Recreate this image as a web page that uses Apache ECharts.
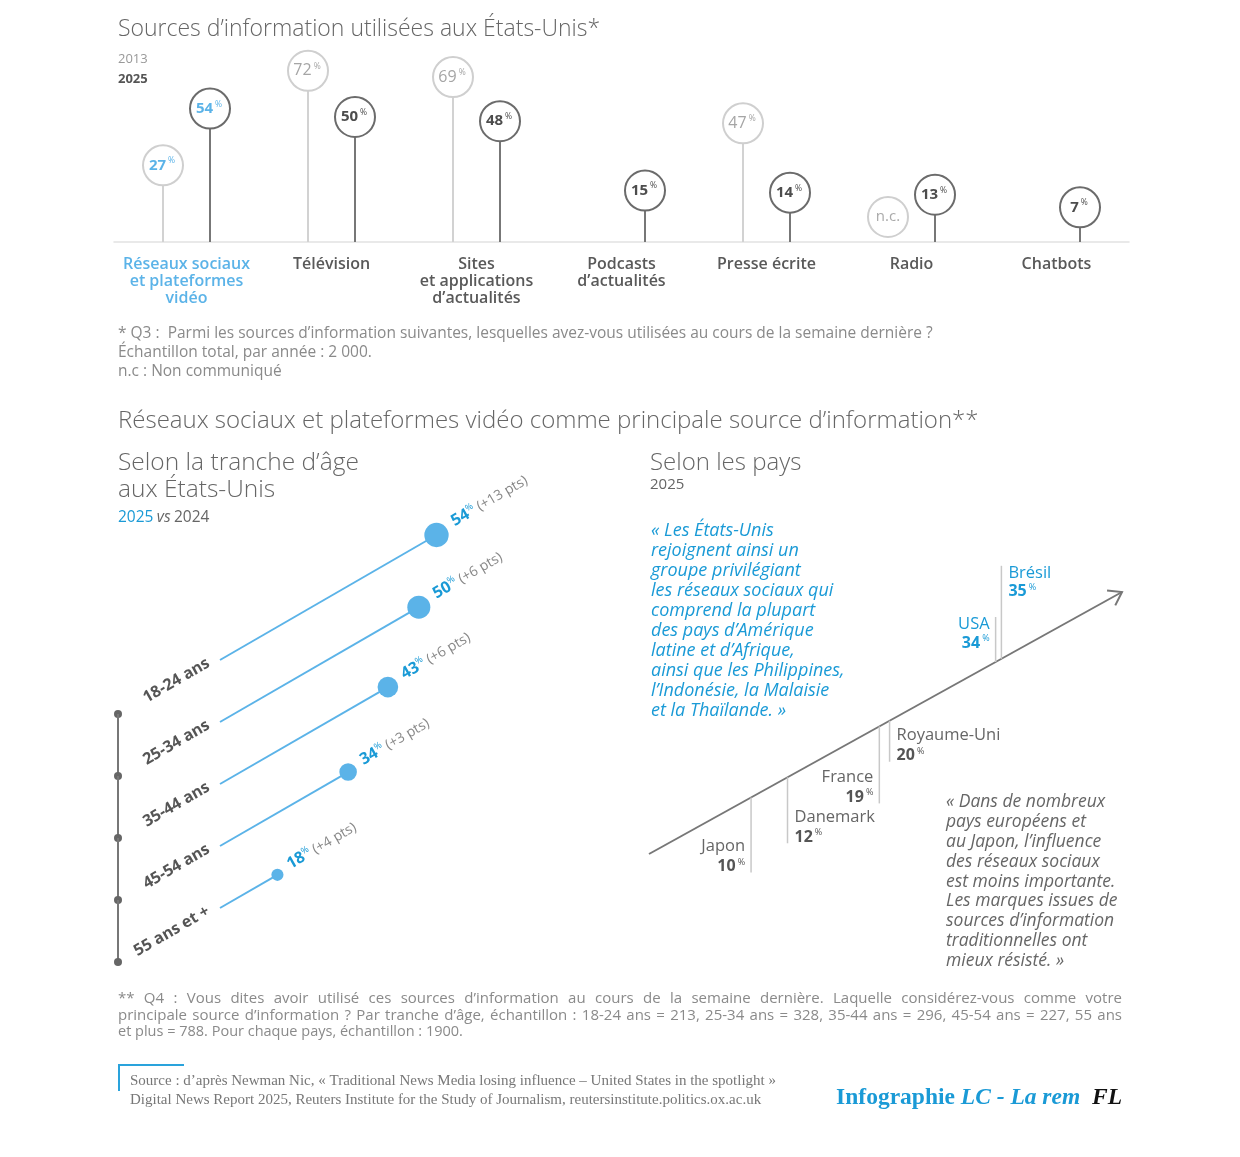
<!DOCTYPE html>
<html><head><meta charset="utf-8">
<script src="https://cdn.jsdelivr.net/npm/echarts@6/dist/echarts.min.js"></script>
<style>html,body{margin:0;padding:0;background:#fff}#c{width:1240px;height:1157px}</style>
</head><body><div id="c"></div>
<script>
// ---------- DATA ----------
const sourceCategories = ['Réseaux sociaux\net plateformes\nvidéo', 'Télévision', 'Sites\net applications\nd’actualités', 'Podcasts\nd’actualités', 'Presse écrite', 'Radio', 'Chatbots'];
const usage2013 = [27, 72, 69, null, 47, 'n.c.', null];
const usage2025 = [54, 50, 48, 15, 14, 13, 7];

const ageGroups = ['18-24 ans', '25-34 ans', '35-44 ans', '45-54 ans', '55 ans et +'];
const ageShare2025 = [54, 50, 43, 34, 18];
const ageChangeVs2024 = [13, 6, 6, 3, 4];

const countries = ['Japon', 'Danemark', 'France', 'Royaume-Uni', 'USA', 'Brésil'];
const countryShare = [10, 12, 19, 20, 34, 35];

// ---------- STYLE ----------
const FONT = '"Open Sans", Lato, sans-serif';
const SERIF = '"Liberation Serif", "DejaVu Serif", serif';
const BLUE = '#1a9ad6';
const LIGHTBLUE = '#5bb3e8';
const GRAY = '#666';
const countryStyle = {
  'Japon': { side: 'left', tick: 75 },
  'Danemark': { side: 'right', tick: 66 },
  'France': { side: 'left', tick: 77 },
  'Royaume-Uni': { side: 'right', tick: 41 },
  'USA': { side: 'left', tick: -45, blue: true },
  'Brésil': { side: 'right', tick: -93, blue: true }
};

const chart = echarts.init(document.getElementById('c'));

function lollipop(values, offset, is2025) {
  const data = [];
  values.forEach((v, i) => {
    if (v === null) return;
    data.push(v === 'n.c.' ? [i, 0, 1] : [i, v, 0]);
  });
  return {
    type: 'custom', xAxisIndex: 0, yAxisIndex: 0, data, encode: { x: 0, y: 1 }, z: is2025 ? 4 : 3,
    renderItem: (params, api) => {
      const i = api.value(0), v = api.value(1), nc = api.value(2);
      const cs = params.coordSys;
      const base = cs.y + cs.height;
      const p = api.coord([i, v]);
      const x = p[0] + offset;
      const R = 20;
      const children = [];
      let cy;
      const stroke = is2025 ? '#6b6b6b' : '#cfcfcf';
      if (nc) {
        cy = base - 25;
      } else {
        cy = p[1];
        children.push({ type: 'line', shape: { x1: x, y1: base, x2: x, y2: cy + R }, style: { stroke: is2025 ? '#777' : '#d2d2d2', lineWidth: 2 } });
      }
      children.push({ type: 'circle', shape: { cx: x, cy, r: R }, style: { fill: '#fff', stroke, lineWidth: 2 } });
      if (nc) {
        children.push({ type: 'text', x, y: cy, style: { text: 'n.c.', fill: '#aaa', fontSize: 15, fontFamily: FONT, align: 'center', verticalAlign: 'middle' } });
      } else {
        const blue = i === 0;
        const col = blue ? LIGHTBLUE : (is2025 ? '#4d4d4d' : '#a5a5a5');
        const weight = (blue || is2025) ? 'bold' : 'normal';
        const fs = (blue || is2025) ? 15 : 16;
        children.push({
          type: 'text', x: x - 1, y: cy,
          style: {
            text: '{n|' + v + '}{p|%}', align: 'center', verticalAlign: 'middle',
            rich: {
              n: { fill: col, color: col, fontSize: fs, fontWeight: weight, fontFamily: FONT, lineHeight: 18 },
              p: { fill: col, color: col, fontSize: 8.5, fontFamily: FONT, lineHeight: 9, verticalAlign: 'top', padding: [0, 0, 0, 2] }
            }
          }
        });
      }
      return { type: 'group', children };
    }
  };
}

const ANG = Math.PI / 6;
const DIR = [Math.cos(ANG), -Math.sin(ANG)];
const PERP = [-Math.sin(ANG), -Math.cos(ANG)];

const ageSeries = {
  type: 'custom', xAxisIndex: 1, yAxisIndex: 1,
  data: ageShare2025.map((v, i) => [v, i, ageChangeVs2024[i]]), encode: { x: 0, y: 1 },
  renderItem: (params, api) => {
    const v = api.value(0), idx = api.value(1), ch = api.value(2);
    const cs = params.coordSys;
    const end = api.coord([v, idx]);
    const sx = cs.x, sy = end[1];
    const dx = end[0] - sx;
    const ex = end[0], ey = sy - dx * Math.tan(ANG);
    const r = 0.17 * v + 3;
    const children = [];
    // left axis
    const dotY = sy + 54;
    const axX = 118;
    if (idx > 0) {
      const prevY = api.coord([v, idx - 1])[1] + 54;
      children.push({ type: 'line', shape: { x1: axX, y1: prevY, x2: axX, y2: dotY }, style: { stroke: '#777', lineWidth: 2 } });
    }
    children.push({ type: 'circle', shape: { cx: axX, cy: dotY, r: 4 }, style: { fill: '#666' } });
    // bar line
    children.push({ type: 'line', shape: { x1: sx, y1: sy, x2: ex, y2: ey }, style: { stroke: LIGHTBLUE, lineWidth: 2 } });
    children.push({ type: 'circle', shape: { cx: ex, cy: ey, r }, style: { fill: LIGHTBLUE } });
    // age label
    const la = [sx - 11 * DIR[0] + 4 * PERP[0], sy - 11 * DIR[1] + 4 * PERP[1]];
    children.push({ type: 'text', x: la[0], y: la[1], rotation: ANG, style: { text: ageGroups[idx], fill: '#555', fontSize: 16, fontWeight: 'bold', fontFamily: FONT, align: 'right', verticalAlign: 'middle' } });
    // value label
    const d = r + 8;
    const va = [ex + d * DIR[0] + 3 * PERP[0], ey + d * DIR[1] + 3 * PERP[1]];
    children.push({
      type: 'text', x: va[0], y: va[1], rotation: ANG,
      style: {
        text: '{n|' + v + '}{p|%}{d| (+' + ch + ' pts)}', align: 'left', verticalAlign: 'middle',
        rich: {
          n: { fill: BLUE, color: BLUE, fontSize: 16, fontWeight: 'bold', fontFamily: FONT, lineHeight: 18 },
          p: { fill: BLUE, color: BLUE, fontSize: 9, fontFamily: FONT, lineHeight: 9, verticalAlign: 'top' },
          d: { fill: '#888', color: '#888', fontSize: 14, fontFamily: FONT, lineHeight: 18 }
        }
      }
    });
    return { type: 'group', children };
  }
};

const arrowSeries = {
  type: 'custom', xAxisIndex: 2, yAxisIndex: 2, data: [[6, 64]], encode: { x: [0, 1], y: [0, 1] }, silent: true,
  renderItem: (params, api) => {
    const a = api.coord([api.value(0), api.value(0)]);
    const b = api.coord([api.value(1), api.value(1)]);
    const ang = Math.atan2(b[1] - a[1], b[0] - a[0]);
    const L = 15, spread = 0.6;
    const p1 = [b[0] - L * Math.cos(ang - spread), b[1] - L * Math.sin(ang - spread)];
    const p2 = [b[0] - L * Math.cos(ang + spread), b[1] - L * Math.sin(ang + spread)];
    return {
      type: 'group', children: [
        { type: 'line', shape: { x1: a[0], y1: a[1], x2: b[0], y2: b[1] }, style: { stroke: '#777', lineWidth: 2 } },
        { type: 'polyline', shape: { points: [p1, b, p2] }, style: { stroke: '#777', lineWidth: 2, fill: null } }
      ]
    };
  }
};

const countrySeries = {
  type: 'custom', xAxisIndex: 2, yAxisIndex: 2, z: 5,
  data: countryShare.map(v => [v, v]), encode: { x: 0, y: 1 },
  renderItem: (params, api) => {
    const name = countries[params.dataIndex];
    const st = countryStyle[name];
    const v = api.value(0);
    const p = api.coord([v, v]);
    const x = p[0], y0 = p[1], y1 = y0 + st.tick;
    const col = st.blue ? BLUE : '#666';
    const numCol = st.blue ? BLUE : '#555';
    const tx = st.side === 'left' ? x - 6 : x + 7;
    const align = st.side === 'left' ? 'right' : 'left';
    let yName, yVal;
    if (st.tick > 0) { yVal = y1 - 6; yName = y1 - 26; } else { yName = y1 + 7; yVal = y1 + 26; }
    return {
      type: 'group', children: [
        { type: 'line', shape: { x1: x, y1: y0, x2: x, y2: y1 }, style: { stroke: '#c8c8c8', lineWidth: 1.5 } },
        { type: 'text', x: tx, y: yName, style: { text: name, fill: col, fontSize: 16.5, fontFamily: FONT, align, verticalAlign: 'middle' } },
        {
          type: 'text', x: tx, y: yVal, style: {
            text: '{n|' + v + '}{p|%}', align, verticalAlign: 'middle',
            rich: {
              n: { fill: numCol, color: numCol, fontSize: 16, fontWeight: 'bold', fontFamily: FONT, lineHeight: 18 },
              p: { fill: numCol, color: numCol, fontSize: 9, fontFamily: FONT, lineHeight: 9, verticalAlign: 'top', padding: [0, 0, 0, 2] }
            }
          }
        }
      ]
    };
  }
};

// justified footnote lines
const mctx = document.createElement('canvas').getContext('2d');
function justified(text, x, y, width, size, color) {
  const words = text.split(' ');
  let widths, total;
  for (;;) {
    mctx.font = size + 'px ' + FONT;
    widths = words.map(w => mctx.measureText(w).width);
    total = widths.reduce((s, w) => s + w, 0);
    if (total + 2.5 * (words.length - 1) <= width || size < 10) break;
    size -= 0.25;
  }
  const gap = (width - total) / (words.length - 1);
  let cx = x;
  return words.map((w, i) => {
    const el = { type: 'text', x: cx, y, style: { text: w, fill: color, fontSize: size, fontFamily: FONT, verticalAlign: 'middle' } };
    cx += widths[i] + gap;
    return el;
  });
}

function txt(text, x, y, opts) {
  return { type: 'text', x, y, style: Object.assign({ text, fill: GRAY, fontSize: 14, fontFamily: FONT, verticalAlign: 'middle' }, opts || {}) };
}
const NOTE = '#8a8a8a';

const graphics = [
  txt('Sources d’information utilisées aux États-Unis*', 118, 29, { fontSize: 23, fill: '#666', fontWeight: 300 }),
  txt('2013', 118, 59, { fontSize: 13, fill: '#999' }),
  txt('2025', 118, 79, { fontSize: 13, fill: '#555', fontWeight: 'bold' }),
  txt('* Q3 :  Parmi les sources d’information suivantes, lesquelles avez-vous utilisées au cours de la semaine dernière ?', 118, 334, { fill: NOTE, fontSize: 15.5 }),
  txt('Échantillon total, par année : 2 000.', 118, 353, { fill: NOTE, fontSize: 15.5 }),
  txt('n.c : Non communiqué', 118, 372, { fill: NOTE, fontSize: 15.5 }),
  txt('Réseaux sociaux et plateformes vidéo comme principale source d’information**', 118, 421, { fontSize: 24, fill: '#666', fontWeight: 300 }),
  txt('Selon la tranche d’âge', 118, 463, { fontSize: 24.5, fill: '#666', fontWeight: 300 }),
  txt('aux États-Unis', 118, 490, { fontSize: 24.5, fill: '#666', fontWeight: 300 }),
  {
    type: 'text', x: 118, y: 518, style: {
      text: '{a|2025} {b|vs} {c|2024}', verticalAlign: 'middle',
      rich: {
        a: { fill: BLUE, color: BLUE, fontSize: 15.5, fontFamily: FONT },
        b: { fill: '#666', color: '#666', fontSize: 15.5, fontStyle: 'italic', fontFamily: FONT },
        c: { fill: '#666', color: '#666', fontSize: 15.5, fontFamily: FONT }
      }
    }
  },
  txt('Selon les pays', 650, 463, { fontSize: 24, fill: '#666', fontWeight: 300 }),
  txt('2025', 650, 485, { fontSize: 15, fill: '#666' }),
  txt('« Les États-Unis\nrejoignent ainsi un\ngroupe privilégiant\nles réseaux sociaux qui\ncomprend la plupart\ndes pays d’Amérique\nlatine et d’Afrique,\nainsi que les Philippines,\nl’Indonésie, la Malaisie\net la Thaïlande. »', 651, 521,
    { fontSize: 18, fill: BLUE, fontStyle: 'italic', lineHeight: 20, verticalAlign: 'top' }),
  txt('« Dans de nombreux\npays européens et\nau Japon, l’influence\ndes réseaux sociaux\nest moins importante.\nLes marques issues de\nsources d’information\ntraditionnelles ont\nmieux résisté. »', 946, 792,
    { fontSize: 17.5, fill: '#666', fontStyle: 'italic', lineHeight: 19.9, verticalAlign: 'top' }),
  ...justified('** Q4 : Vous dites avoir utilisé ces sources d’information au cours de la semaine dernière. Laquelle considérez-vous comme votre', 118, 999, 1004, 15, NOTE),
  ...justified('principale source d’information ? Par tranche d’âge, échantillon : 18-24 ans = 213, 25-34 ans = 328, 35-44 ans = 296, 45-54 ans = 227, 55 ans', 118, 1016, 1004, 15, NOTE),
  txt('et plus = 788. Pour chaque pays, échantillon : 1900.', 118, 1032, { fill: NOTE, fontSize: 14.5 }),
  { type: 'polyline', shape: { points: [[119, 1091], [119, 1065], [184, 1065]] }, style: { stroke: '#2aa3dc', lineWidth: 2, fill: null } },
  txt('Source : d’après Newman Nic, « Traditional News Media losing influence – United States in the spotlight »', 130, 1081, { fontSize: 15, fontFamily: SERIF, fill: '#777' }),
  txt('Digital News Report 2025, Reuters Institute for the Study of Journalism, reutersinstitute.politics.ox.ac.uk', 130, 1100, { fontSize: 15, fontFamily: SERIF, fill: '#777' }),
  {
    type: 'text', x: 1122, y: 1098, style: {
      text: '{a|Infographie }{b|LC - La rem  }{c|FL}', align: 'right', verticalAlign: 'middle',
      rich: {
        a: { fill: BLUE, color: BLUE, fontSize: 23.5, fontWeight: 'bold', fontFamily: SERIF },
        b: { fill: BLUE, color: BLUE, fontSize: 23.5, fontWeight: 'bold', fontStyle: 'italic', fontFamily: SERIF },
        c: { fill: '#111', color: '#111', fontSize: 23.5, fontWeight: 'bold', fontStyle: 'italic', fontFamily: SERIF }
      }
    }
  }
];

const option = {
  animation: false,
  backgroundColor: '#fff',
  grid: [
    { left: 114, width: 1015, top: 54, height: 188 },
    { left: 220, width: 243, top: 629, height: 310 },
    { left: 649, width: 473, top: 592, height: 262 }
  ],
  xAxis: [
    {
      type: 'category', gridIndex: 0, data: sourceCategories,
      axisTick: { show: false },
      axisLine: { onZero: false, lineStyle: { color: '#e2e2e2', width: 1.5 } },
      axisLabel: {
        interval: 0, margin: 14, fontSize: 16, fontWeight: 600, color: '#595959', fontFamily: FONT, lineHeight: 17,
        formatter: (v, i) => i === 0 ? v.split('\n').map(s => '{b|' + s + '}').join('\n') : v,
        rich: { b: { color: LIGHTBLUE, fontSize: 16, fontWeight: 600, fontFamily: FONT, lineHeight: 17 } }
      },
      splitLine: { show: false }
    },
    { type: 'value', gridIndex: 1, min: 5, max: 60, show: false },
    { type: 'log', gridIndex: 2, min: 6, max: 64, show: false }
  ],
  yAxis: [
    { type: 'value', gridIndex: 0, min: -9.5, max: 80, show: false },
    { type: 'category', gridIndex: 1, data: ageGroups, inverse: true, show: false },
    { type: 'log', gridIndex: 2, min: 6, max: 64, show: false }
  ],
  series: [
    lollipop(usage2013, -23.5, false),
    lollipop(usage2025, 23.5, true),
    ageSeries,
    arrowSeries,
    countrySeries
  ],
  graphic: graphics
};
chart.setOption(option);
</script>
</body></html>
